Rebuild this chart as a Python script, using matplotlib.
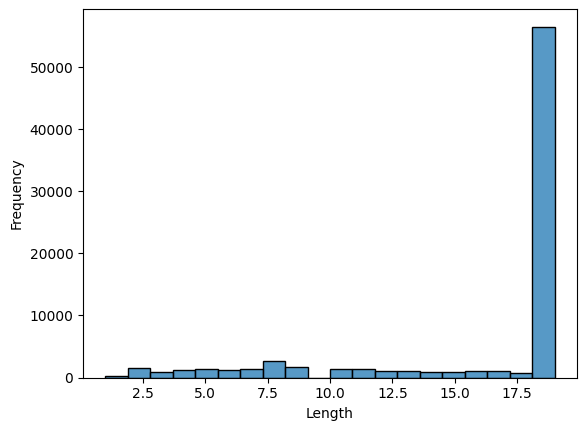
import numpy as np
import matplotlib
matplotlib.use("Agg")
import matplotlib.pyplot as plt
import seaborn as sns

# length values and how often each occurs
lengths = [1, 2, 3, 4, 5, 6, 7, 8, 9, 10, 11, 12, 13, 14, 15, 16, 17, 18, 19]
counts = [300, 1600, 850, 1250, 1400, 1250, 1400, 2600, 1750, 1300,
          1300, 1100, 1100, 950, 950, 1100, 1100, 800, 56600]

fig = plt.figure(figsize=(5.85, 4.3), dpi=100)
ax = fig.add_axes([83/585, (430-377.5)/430, 494/585, 368.5/430])
sns.histplot(x=lengths, weights=counts, bins=20, ax=ax)
ax.set_xlabel("Length")
ax.set_ylabel("Frequency")
fig.savefig("out.png", dpi=100, facecolor="white")
